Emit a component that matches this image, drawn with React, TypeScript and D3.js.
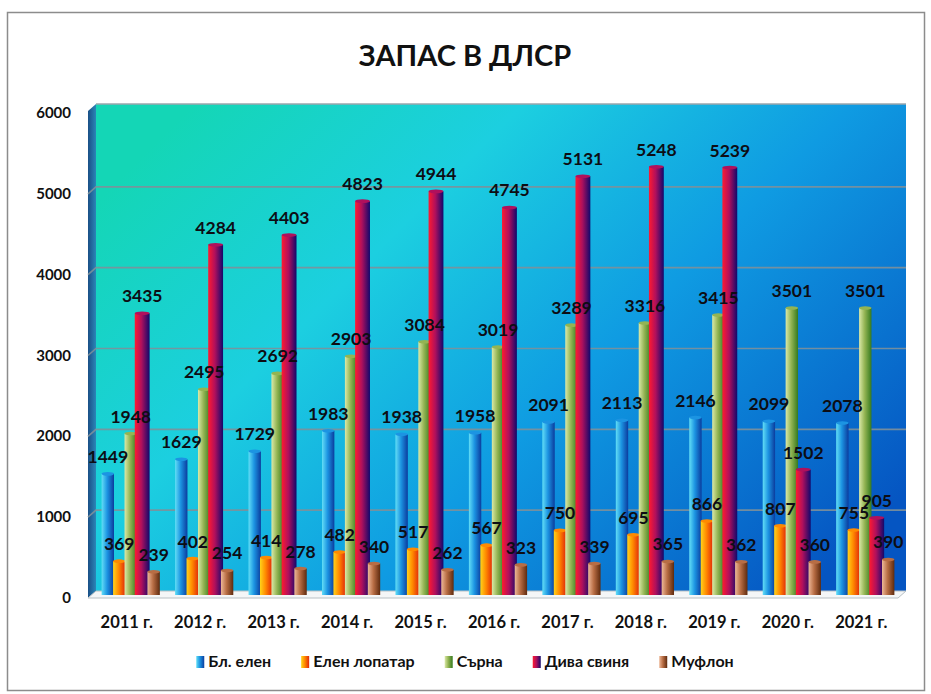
import React, { useEffect, useRef } from 'react'
import * as d3 from 'd3'

const years = ['2011 г.', '2012 г.', '2013 г.', '2014 г.', '2015 г.', '2016 г.', '2017 г.', '2018 г.', '2019 г.', '2020 г.', '2021 г.']
const seriesNames = ['Бл. елен', 'Елен лопатар', 'Сърна', 'Дива свиня', 'Муфлон']
const blElen = [1449, 1629, 1729, 1983, 1938, 1958, 2091, 2113, 2146, 2099, 2078]
const elenLopatar = [369, 402, 414, 482, 517, 567, 750, 695, 866, 807, 755]
const sarna = [1948, 2495, 2692, 2903, 3084, 3019, 3289, 3316, 3415, 3501, 3501]
const divaSvinya = [3435, 4284, 4403, 4823, 4944, 4745, 5131, 5248, 5239, 1502, 905]
const muflon = [239, 254, 278, 340, 262, 323, 339, 365, 362, 360, 390]
const yTicks = [0, 1000, 2000, 3000, 4000, 5000, 6000]

// gradient stops per series: left -> right (cylinder shading)
const barStops = [
	['#62def6', '#1c94e2', '#0b3c9e'],
	['#ffd31a', '#ff8a00', '#e0260a'],
	['#dbe9a8', '#93b453', '#357a1e'],
	['#ff1a30', '#b0105c', '#12086c'],
	['#edb898', '#b86d44', '#5e2a0e'],
]

const FONT = 'Lato, "Open Sans", sans-serif'

export default function App() {
	const ref = useRef<SVGSVGElement>(null)

	useEffect(() => {
		document.body.style.margin = '0'
		const svg = d3.select(ref.current)
		svg.selectAll('*').remove()

		const width = 931
		const height = 694
		const depthX = 8
		const depthY = 7
		const frontLeft = 88
		const plotRight = 906
		const floorY = 591

		const data = [blElen, elenLopatar, sarna, divaSvinya, muflon]

		const x = d3.scaleBand<string>().domain(years).range([94, 902]).padding(0)
		const xInner = d3
			.scaleBand<string>()
			.domain(seriesNames)
			.range([x.bandwidth() * 0.11, x.bandwidth() * 0.89])
			.padding(0)
		const y = d3.scaleLinear().domain([0, 6000]).range([floorY, 106])

		const defs = svg.append('defs')

		const bg = defs.append('linearGradient').attr('id', 'bg')
			.attr('x1', '0%').attr('y1', '20%').attr('x2', '100%').attr('y2', '80%')
		bg.append('stop').attr('offset', '0%').attr('stop-color', '#14d6b6')
		bg.append('stop').attr('offset', '30%').attr('stop-color', '#1ccfe0')
		bg.append('stop').attr('offset', '60%').attr('stop-color', '#0f9be2')
		bg.append('stop').attr('offset', '100%').attr('stop-color', '#0555c2')

		const wall = defs.append('linearGradient').attr('id', 'wall')
			.attr('x1', '0%').attr('y1', '0%').attr('x2', '100%').attr('y2', '0%')
		wall.append('stop').attr('offset', '0%').attr('stop-color', '#1a4f86')
		wall.append('stop').attr('offset', '100%').attr('stop-color', '#2b86b8')

		barStops.forEach((s, i) => {
			const g = defs.append('linearGradient').attr('id', 'bar' + i)
				.attr('x1', '0%').attr('y1', '0%').attr('x2', '100%').attr('y2', '0%')
			g.append('stop').attr('offset', '0%').attr('stop-color', s[0])
			g.append('stop').attr('offset', '45%').attr('stop-color', s[1])
			g.append('stop').attr('offset', '100%').attr('stop-color', s[2])
		})

		svg.attr('width', width).attr('height', height)

		// outer frame
		svg.append('rect')
			.attr('x', 7.5).attr('y', 12.5).attr('width', 917).attr('height', 678)
			.attr('fill', '#fff').attr('stroke', '#8c8c8c').attr('stroke-width', 1.5)

		// title
		svg.append('text')
			.attr('x', 465).attr('y', 66)
			.attr('text-anchor', 'middle')
			.style('font-family', FONT).style('font-weight', 700).style('font-size', '29px')
			.attr('fill', '#111')
			.text('ЗАПАС В ДЛСР')

		// back wall
		svg.append('rect')
			.attr('x', frontLeft + depthX).attr('y', y(6000) - 2)
			.attr('width', plotRight - frontLeft - depthX).attr('height', floorY - y(6000) + 2)
			.attr('fill', 'url(#bg)')
		svg.append('line')
			.attr('x1', frontLeft + depthX).attr('x2', plotRight)
			.attr('y1', y(6000) - 2).attr('y2', y(6000) - 2)
			.attr('stroke', '#9aa6ad').attr('stroke-width', 1.5)

		// left wall
		svg.append('path')
			.attr('d', `M${frontLeft},${y(6000) - 2 + depthY} L${frontLeft + depthX},${y(6000) - 2} L${frontLeft + depthX},${floorY} L${frontLeft},${floorY + depthY} Z`)
			.attr('fill', 'url(#wall)')

		// gridlines
		svg.append('g').selectAll('path')
			.data(yTicks.filter(t => t > 0 && t < 6000))
			.enter()
			.append('path')
			.attr('d', (t: number) => `M${frontLeft},${y(t) + depthY} L${frontLeft + depthX},${y(t)} L${plotRight},${y(t)}`)
			.attr('fill', 'none')
			.attr('stroke', '#7e909a')
			.attr('stroke-opacity', 0.9)
			.attr('stroke-width', 1.6)

		// floor
		svg.append('path')
			.attr('d', `M${frontLeft},${floorY + depthY} L${frontLeft + depthX},${floorY} L${plotRight},${floorY} L${plotRight - depthX},${floorY + depthY} Z`)
			.attr('fill', '#f4f6f7')
			.attr('stroke', '#b8c0c4')
			.attr('stroke-width', 1)

		// y axis labels
		svg.append('g').selectAll('text')
			.data(yTicks)
			.enter()
			.append('text')
			.attr('x', 71)
			.attr('y', (t: number) => y(t) + depthY + 5)
			.attr('text-anchor', 'end')
			.style('font-family', FONT).style('font-weight', 700).style('font-size', '15px')
			.attr('fill', '#111')
			.text((t: number) => String(t))

		// x axis labels
		svg.append('g').selectAll('text')
			.data(years)
			.enter()
			.append('text')
			.attr('x', (d: string) => (x(d) as number) + x.bandwidth() / 2 - 4)
			.attr('y', 628)
			.attr('text-anchor', 'middle')
			.style('font-family', FONT).style('font-weight', 700).style('font-size', '16.5px')
			.attr('fill', '#111')
			.text((d: string) => d)

		const bw = xInner.bandwidth() * 1.08
		const barBase = floorY + 4

		// bars
		years.forEach((yr, yi) => {
			const g = svg.append('g').attr('transform', `translate(${x(yr)},0)`)
			seriesNames.forEach((s, si) => {
				const v = data[si][yi]
				const w = si === 3 ? bw * 1.2 : bw
				const bx = (xInner(s) as number) + (xInner.bandwidth() - w) / 2
				const top = y(v)
				g.append('rect')
					.attr('x', bx).attr('y', top)
					.attr('width', w).attr('height', barBase - top)
					.attr('fill', `url(#bar${si})`)
				g.append('ellipse')
					.attr('cx', bx + w / 2).attr('cy', top)
					.attr('rx', w / 2).attr('ry', 1.8)
					.attr('fill', barStops[si][1])
			})
		})

		// value labels
		years.forEach((yr, yi) => {
			const g = svg.append('g').attr('transform', `translate(${x(yr)},0)`)
			seriesNames.forEach((s, si) => {
				const v = data[si][yi]
				g.append('text')
					.attr('x', (xInner(s) as number) + xInner.bandwidth() / 2)
					.attr('y', y(v) - 11)
					.attr('text-anchor', 'middle')
					.style('font-family', FONT).style('font-weight', 700).style('font-size', '17.5px')
					.attr('fill', '#0d0d14')
					.text(String(v))
			})
		})

		// legend
		const legend = svg.append('g')
		let lx = 0
		const gap = 30
		seriesNames.forEach((s, si) => {
			const item = legend.append('g').attr('transform', `translate(${lx},0)`)
			item.append('rect')
				.attr('x', 0).attr('y', -11).attr('width', 8).attr('height', 12)
				.attr('fill', `url(#bar${si})`)
			const t = item.append('text')
				.attr('x', 12).attr('y', 0)
				.style('font-family', FONT).style('font-weight', 700).style('font-size', '16px')
				.attr('fill', '#111')
				.text(s)
			const tw = (t.node() as SVGTextElement).getComputedTextLength()
			lx += 12 + tw + gap
		})
		const totalW = lx - gap
		legend.attr('transform', `translate(${465 - totalW / 2},667)`)
	}, [])

	return <svg ref={ref} style={{ display: 'block' }} />
}
